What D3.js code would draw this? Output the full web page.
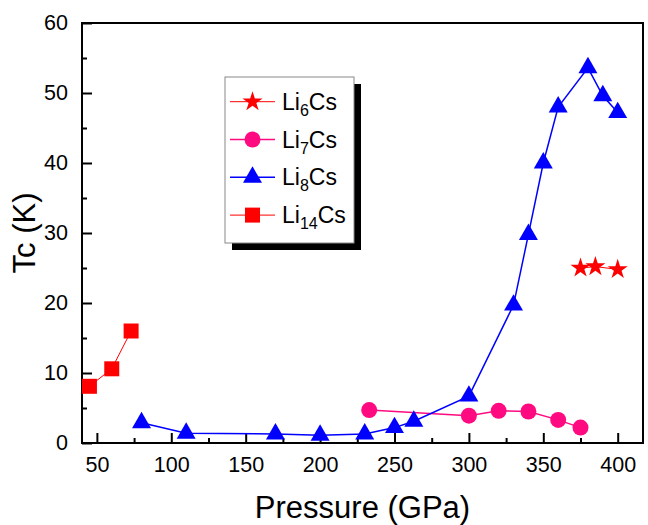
<!DOCTYPE html>
<html>
<head>
<meta charset="utf-8">
<script src="https://cdn.jsdelivr.net/npm/d3@7"></script>
<style>
body { margin: 0; background: #fff; }
text { font-family: "Liberation Sans", Arial, sans-serif; }
</style>
</head>
<body>
<div id="chart"></div>
<script>
/*dados*/
var p_li6 = [375, 385, 400];
var tc_li6 = [25.0, 25.2, 24.8];

var p_li7 = [233, 300, 320, 340, 360, 375];
var tc_li7 = [4.7, 3.9, 4.6, 4.5, 3.3, 2.2];

var p_li8 = [80, 110, 170, 200, 230, 250, 263, 300, 330, 340, 350, 360, 380, 390, 400];
var tc_li8 = [2.9, 1.4, 1.3, 1.1, 1.3, 2.2, 3.1, 6.7, 19.7, 29.8, 40.0, 48.0, 53.6, 49.6, 47.2];

var p_li14 = [45, 60, 73];
var tc_li14 = [8.1, 10.6, 16.0];

var xTicks = [50, 100, 150, 200, 250, 300, 350, 400];
var xMinor = [75, 125, 175, 225, 275, 325, 375];
var yTicks = [0, 10, 20, 30, 40, 50, 60];
var yMinor = [5, 15, 25, 35, 45, 55];
var subs = ["6", "7", "8", "14"];

var W = 648, H = 525;
var mLeft = 82, mRight = 643, mTop = 23, mBottom = 443;

var svg = d3.select("#chart").append("svg").attr("width", W).attr("height", H);

var x = d3.scaleLinear().domain([40, 417]).range([mLeft, mRight]);
var y = d3.scaleLinear().domain([0, 60]).range([mBottom, mTop]);

/*series: cor, simbolo, largura da linha*/
var series = [
    {p: p_li6, tc: tc_li6, color: "#ff0000", sym: d3.symbolStar, size: 125, lw: 1},
    {p: p_li7, tc: tc_li7, color: "#ff0a80", sym: d3.symbolCircle, size: 200, lw: 1.5},
    {p: p_li8, tc: tc_li8, color: "#0000ff", sym: d3.symbolTriangle, size: 156, lw: 1.5},
    {p: p_li14, tc: tc_li14, color: "#ff0000", sym: d3.symbolSquare, size: 225, lw: 1}
];

/*moldura*/
svg.append("rect").attr("x", mLeft).attr("y", mTop)
    .attr("width", mRight - mLeft).attr("height", mBottom - mTop)
    .attr("fill", "none").attr("stroke", "#000").attr("stroke-width", 2);

/*eixo x*/
var xAxis = d3.axisBottom(x).tickValues(xTicks).tickSize(-10).tickPadding(14);
var gx = svg.append("g").attr("transform", "translate(0," + mBottom + ")").call(xAxis);
gx.select(".domain").remove();
gx.selectAll("line").attr("stroke-width", 2);
gx.selectAll("text").attr("font-size", 21.5).attr("fill", "#000");
var gxm = svg.append("g").attr("transform", "translate(0," + mBottom + ")")
    .call(d3.axisBottom(x).tickValues(xMinor).tickSize(-5).tickFormat(""));
gxm.select(".domain").remove();
gxm.selectAll("line").attr("stroke-width", 2);

/*eixo y*/
var yAxis = d3.axisLeft(y).tickValues(yTicks).tickSize(-10).tickPadding(14);
var gy = svg.append("g").attr("transform", "translate(" + mLeft + ",0)").call(yAxis);
gy.select(".domain").remove();
gy.selectAll("line").attr("stroke-width", 2);
gy.selectAll("text").attr("font-size", 21.5).attr("fill", "#000");
var gym = svg.append("g").attr("transform", "translate(" + mLeft + ",0)")
    .call(d3.axisLeft(y).tickValues(yMinor).tickSize(-5).tickFormat(""));
gym.select(".domain").remove();
gym.selectAll("line").attr("stroke-width", 2);

/*titulos dos eixos*/
svg.append("text").attr("x", (mLeft + mRight) / 2).attr("y", 518)
    .attr("text-anchor", "middle").attr("font-size", 31).text("Pressure (GPa)");
svg.append("text").attr("transform", "translate(35," + ((mTop + mBottom) / 2) + ") rotate(-90)")
    .attr("text-anchor", "middle").attr("font-size", 31).text("Tc (K)");

/*linhas e simbolos*/
var line = d3.line().x(function(d){return x(d[0]);}).y(function(d){return y(d[1]);});
series.forEach(function(s){
    var pts = s.p.map(function(d, i){return [d, s.tc[i]];});
    svg.append("path").datum(pts).attr("d", line)
        .attr("fill", "none").attr("stroke", s.color).attr("stroke-width", s.lw);
    svg.selectAll(null).data(pts).enter().append("path")
        .attr("transform", function(d){return "translate(" + x(d[0]) + "," + y(d[1]) + ")";})
        .attr("d", d3.symbol().type(s.sym).size(s.size))
        .attr("fill", s.color);
});

/*legenda*/
var lg = svg.append("g");
lg.append("rect").attr("x", 232).attr("y", 84).attr("width", 129).attr("height", 166).attr("fill", "#000");
lg.append("rect").attr("x", 225).attr("y", 77).attr("width", 129).attr("height", 166)
    .attr("fill", "#fff").attr("stroke", "#888").attr("stroke-width", 1);
series.forEach(function(s, i){
    var ly = 101.7 + i * 37.8;
    lg.append("line").attr("x1", 230).attr("x2", 275).attr("y1", ly).attr("y2", ly)
        .attr("stroke", s.color).attr("stroke-width", s.lw);
    lg.append("path").attr("transform", "translate(252.5," + ly + ")")
        .attr("d", d3.symbol().type(s.sym).size(s.size)).attr("fill", s.color);
    var t = lg.append("text").attr("x", 282).attr("y", ly + 8).attr("font-size", 23);
    t.append("tspan").text("Li");
    t.append("tspan").attr("font-size", 16).attr("dy", 6).text(subs[i]);
    t.append("tspan").attr("dy", -6).text("Cs");
});
</script>
</body>
</html>
